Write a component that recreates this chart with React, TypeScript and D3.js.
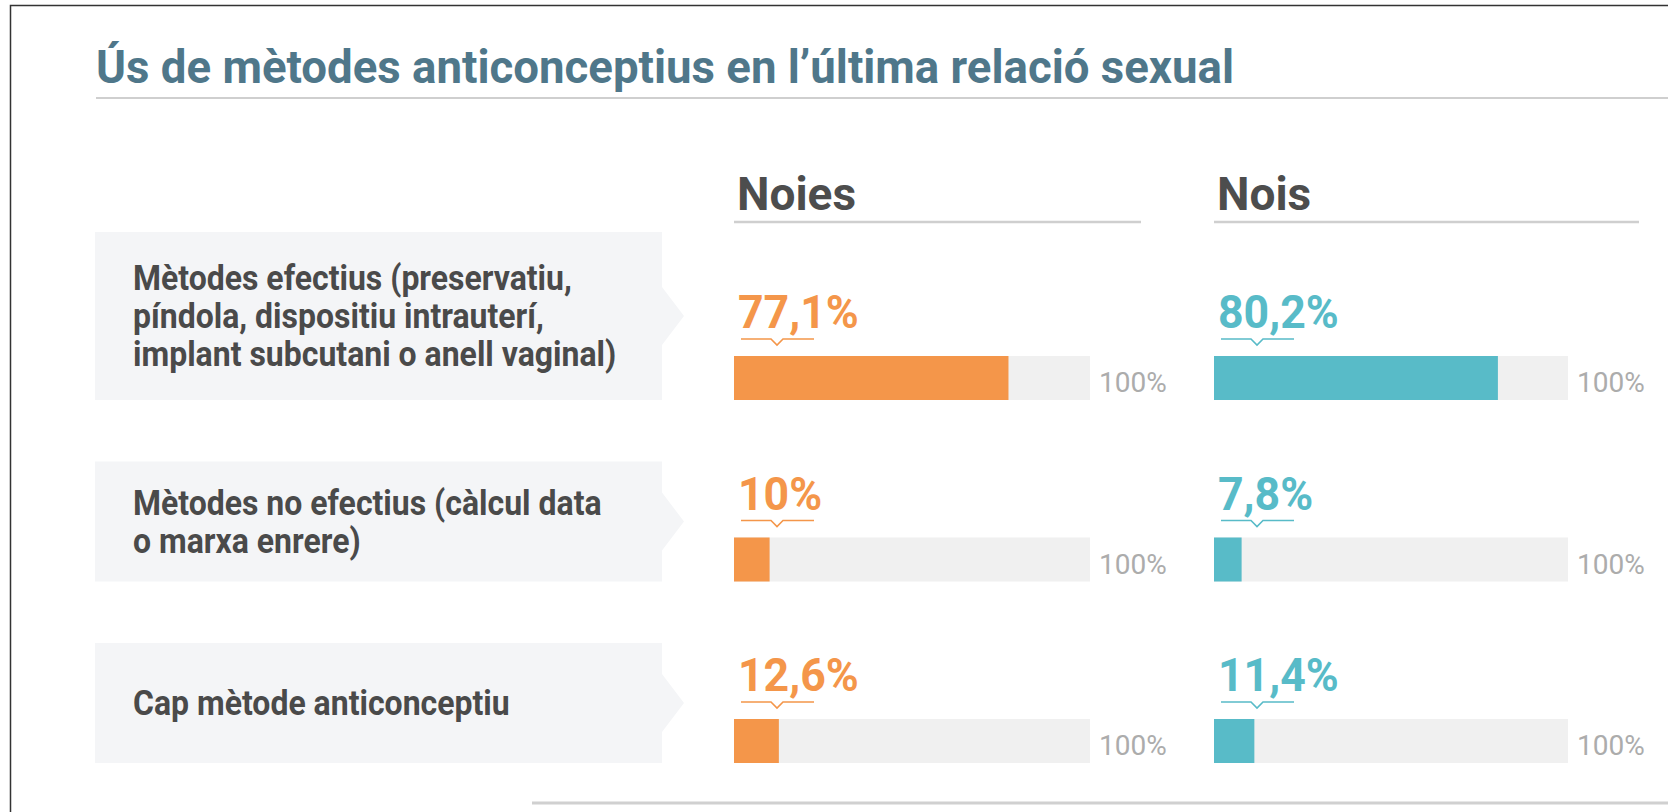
import React from "react";
import * as d3 from "d3";

const title = "Ús de mètodes anticonceptius en l’última relació sexual";
const groups = ["Noies", "Nois"];
const categoryLines: string[][] = [
  ["Mètodes efectius (preservatiu,", "píndola, dispositiu intrauterí,", "implant subcutani o anell vaginal)"],
  ["Mètodes no efectius (càlcul data", "o marxa enrere)"],
  ["Cap mètode anticonceptiu"],
];
const noies = [77.1, 10, 12.6];
const nois = [80.2, 7.8, 11.4];
const maxLabel = "100%";

const W = 1668;
const H = 812;
const FONT = "Roboto, 'Noto Sans', sans-serif";
const COLORS = ["#f4964a", "#58bbc8"];

const fmt = (v: number) =>
  (Number.isInteger(v) ? String(v) : v.toFixed(1)).replace(".", ",") + "%";

export default function App() {
  const xScales = [
    d3.scaleLinear().domain([0, 100]).range([734, 1090]),
    d3.scaleLinear().domain([0, 100]).range([1214, 1568]),
  ];
  const yRow = d3.scaleLinear().domain([0, 2]).range([356, 719]);
  const barH = 44;
  const series = [noies, nois];
  const lineH = 38;

  return (
    <svg
      width={W}
      height={H}
      style={{ position: "fixed", left: 0, top: 0, background: "#fff" }}
      fontFamily={FONT}
    >
      <rect x={10.5} y={5.5} width={3000} height={3000} fill="none" stroke="#333" strokeWidth={1.5} />
      <text x={96} y={83} fontSize={46} fontWeight={700} fill="#4f778a" textLength={1138} lengthAdjust="spacingAndGlyphs">
        {title}
      </text>
      <line x1={96} x2={W} y1={98} y2={98} stroke="#cfcfcf" strokeWidth={2} />

      {groups.map((g, gi) => {
        const [r0] = xScales[gi].range();
        return (
          <g key={g}>
            <text x={r0 + 3} y={210} fontSize={46} fontWeight={700} fill="#4d4d4d">
              {g}
            </text>
            <line x1={r0} x2={gi === 0 ? 1141 : 1639} y1={222} y2={222} stroke="#cfcfcf" strokeWidth={2.5} />
          </g>
        );
      })}

      {categoryLines.map((lines, i) => {
        const top = yRow(i);
        const bottom = top + barH;
        const boxH = lines.length >= 3 ? 168 : 120;
        const boxTop = bottom - boxH;
        const cy = boxTop + boxH / 2;
        const bx0 = 95;
        const bx1 = 662;
        const path = `M${bx0},${boxTop}H${bx1}V${cy - 29}L${bx1 + 22},${cy}L${bx1},${cy + 29}V${bottom}H${bx0}Z`;
        return (
          <g key={i}>
            <path d={path} fill="#f4f5f7" />
            {lines.map((ln, li) => (
              <text
                key={li}
                transform={`translate(133,${cy + (li - (lines.length - 1) / 2) * lineH + 12}) scale(0.914,1)`}
                fontSize={35}
                fontWeight={700}
                fill="#4a4a4a"
              >
                {ln}
              </text>
            ))}
            {series.map((vals, gi) => {
              const x = xScales[gi];
              const [r0, r1] = x.range();
              const v = vals[i];
              const c = COLORS[gi];
              const by = top - 17;
              const bracket = `M${r0 + 7},${by}H${r0 + 37}L${r0 + 43},${by + 6}L${r0 + 49},${by}H${r0 + 80}`;
              return (
                <g key={gi}>
                  <rect x={r0} y={top} width={r1 - r0} height={barH} fill="#f0f0f0" />
                  <rect x={r0} y={top} width={x(v) - r0} height={barH} fill={c} />
                  <text
                    transform={`translate(${r0 + 4},${top - 28}) scale(0.95,1)`}
                    fontSize={47}
                    fontWeight={700}
                    fill={c}
                  >
                    {fmt(v)}
                  </text>
                  <path d={bracket} fill="none" stroke={c} strokeWidth={1.6} />
                  <text x={r1 + 9} y={top + 36} fontSize={28} fill="#acacac">
                    {maxLabel}
                  </text>
                </g>
              );
            })}
          </g>
        );
      })}

      <line x1={532} x2={W} y1={803} y2={803} stroke="#d0d0d0" strokeWidth={3} />
    </svg>
  );
}
